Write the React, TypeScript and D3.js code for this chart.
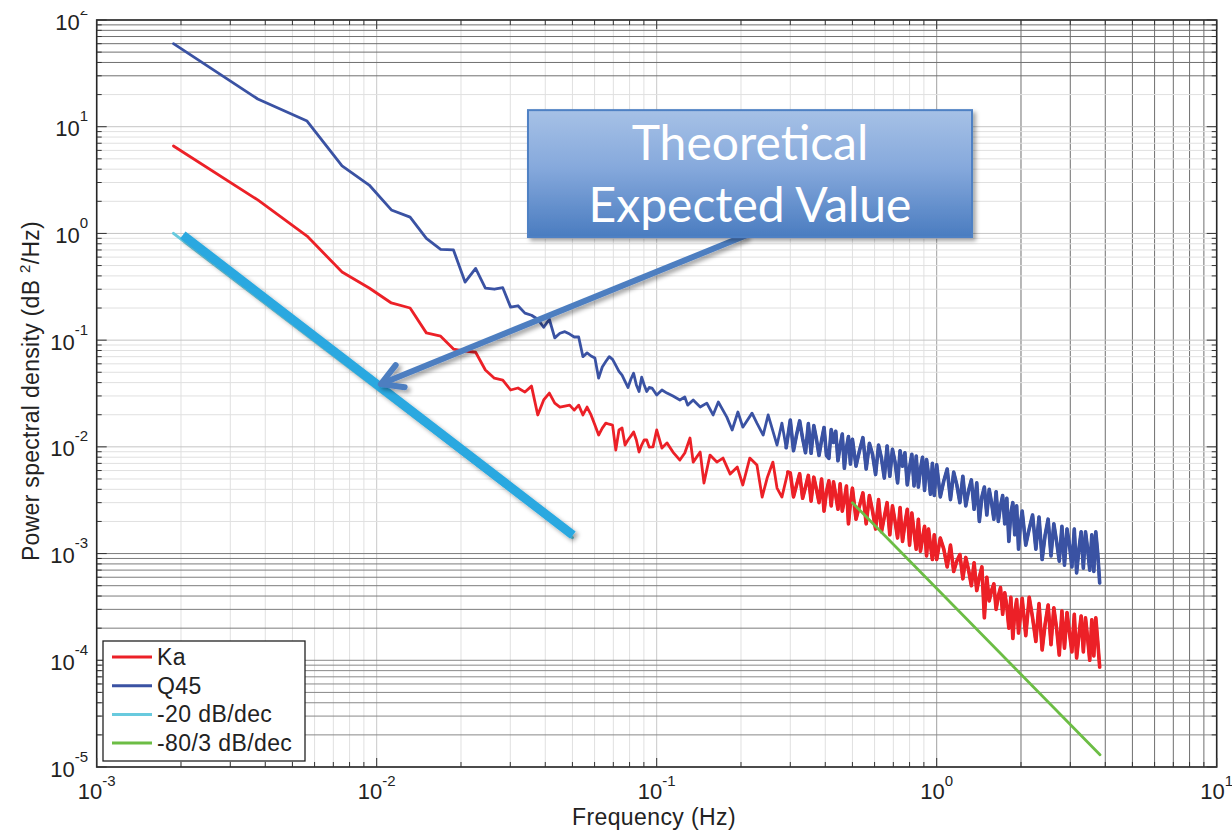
import React, { useEffect } from "react";
import * as d3 from "d3";

const W = 1232;
const H = 830;

// low-frequency FFT bins, shared by both spectra (df ~ 0.00188 Hz)
const lowFreq = [
  0.00188, 0.00376, 0.00564, 0.00752, 0.0094, 0.01128, 0.01316, 0.01504, 0.01692, 0.0188,
  0.02068, 0.02256, 0.02444, 0.02632, 0.0282, 0.03008, 0.03196, 0.03384, 0.03572, 0.0376,
  0.03948, 0.04136, 0.04324, 0.04512, 0.047, 0.04888, 0.05076, 0.05264, 0.05452, 0.0564,
  0.05828, 0.06016, 0.06204, 0.06392, 0.0658, 0.06768, 0.06956, 0.07144, 0.07332, 0.0752,
  0.07708, 0.07896, 0.08084, 0.08272, 0.0846, 0.08648, 0.08836, 0.09024, 0.09212, 0.094,
];
const q45Low = [
  60, 18.2, 11.3, 4.3, 2.84, 1.66, 1.42, 0.9, 0.71, 0.7,
  0.35, 0.47, 0.307, 0.3, 0.31, 0.204, 0.21, 0.179, 0.171, 0.157,
  0.132, 0.157, 0.105, 0.116, 0.12, 0.114, 0.107, 0.107, 0.07, 0.076,
  0.071, 0.068, 0.044, 0.056, 0.063, 0.07, 0.066, 0.058, 0.051, 0.047,
  0.041, 0.036, 0.043, 0.049, 0.038, 0.033, 0.045, 0.038, 0.033, 0.036,
];
const kaLow = [
  6.6, 2.06, 0.945, 0.435, 0.308, 0.223, 0.2, 0.117, 0.109, 0.0825,
  0.079, 0.077, 0.0525, 0.044, 0.0423, 0.0341, 0.0356, 0.0326, 0.0371, 0.0199,
  0.0275, 0.0319, 0.0257, 0.0236, 0.0241, 0.0246, 0.0221, 0.0246, 0.0199, 0.0236,
  0.0199, 0.016, 0.0129, 0.015, 0.0167, 0.0163, 0.016, 0.00933, 0.0144, 0.015,
  0.0104, 0.0116, 0.0126, 0.0138, 0.0116, 0.00894, 0.0104, 0.0116, 0.0116, 0.00994,
];

// 0.1 - 0.3 Hz
const q45MidFreq = [
  0.0962, 0.1, 0.1044, 0.1088, 0.1143, 0.121, 0.126, 0.129, 0.135, 0.143,
  0.151, 0.159, 0.166, 0.178, 0.186, 0.195, 0.203, 0.219, 0.228, 0.24,
  0.25, 0.269, 0.28, 0.29,
];
const q45Mid = [
  0.0356, 0.0306, 0.0341, 0.0319, 0.0299, 0.0275, 0.0293, 0.0246, 0.0275, 0.0236,
  0.0257, 0.0199, 0.0263, 0.019, 0.0144, 0.0212, 0.0153, 0.0207, 0.0167, 0.0129,
  0.0199, 0.0104, 0.0167, 0.0098,
];
const kaMidFreq = [
  0.097, 0.1, 0.1044, 0.1088, 0.1143, 0.121, 0.126, 0.1315, 0.135, 0.143,
  0.1475, 0.155, 0.164, 0.1725, 0.183, 0.194, 0.203, 0.215, 0.228, 0.238,
  0.248, 0.26, 0.269, 0.28, 0.294,
];
const kaMid = [
  0.01, 0.0144, 0.00974, 0.0109, 0.00894, 0.00752, 0.00875, 0.0121, 0.0072, 0.00894,
  0.00458, 0.00838, 0.0072, 0.00785, 0.00556, 0.00647, 0.00439, 0.00785, 0.00675, 0.00338,
  0.0051, 0.0072, 0.00411, 0.00338, 0.00581,
];

// 0.3 - 3.8 Hz, dense noisy band (shared frequency grid)
const highFreq = [
  0.3, 0.308, 0.316, 0.324, 0.332, 0.34, 0.348, 0.356, 0.364, 0.372,
  0.38, 0.388, 0.396, 0.404, 0.412, 0.42, 0.428, 0.436, 0.444, 0.452,
  0.46, 0.468, 0.476, 0.484, 0.492,
  0.5, 0.515, 0.53, 0.545, 0.56, 0.575, 0.59, 0.605, 0.62, 0.635,
  0.65, 0.665, 0.68, 0.695, 0.71, 0.725, 0.74, 0.755, 0.77, 0.785,
  0.8, 0.815, 0.83, 0.845, 0.86, 0.875, 0.89, 0.905, 0.92, 0.935,
  0.95, 0.965, 0.98,
  1.0, 1.03, 1.06, 1.09, 1.12, 1.15, 1.18, 1.21, 1.24, 1.27,
  1.3, 1.33, 1.36, 1.39, 1.42, 1.45, 1.48, 1.51, 1.54, 1.57,
  1.6, 1.63, 1.66, 1.69, 1.72, 1.75, 1.78, 1.81, 1.84, 1.87,
  1.9, 1.93, 1.96, 1.99,
  2.02, 2.08, 2.14, 2.2, 2.26, 2.32, 2.38, 2.44, 2.5, 2.56,
  2.62, 2.68, 2.74, 2.8, 2.86, 2.92, 2.98, 3.04, 3.1, 3.16,
  3.22, 3.28, 3.34, 3.4, 3.46, 3.52, 3.58, 3.64, 3.7, 3.76,
  3.82,
];
const q45High = [
  0.0178, 0.0092, 0.013, 0.0175, 0.012, 0.0088, 0.0165, 0.0087, 0.0158, 0.0118,
  0.0083, 0.0115, 0.0152, 0.0083, 0.0078, 0.0145, 0.011, 0.014, 0.0074, 0.0102,
  0.0132, 0.0063, 0.0098, 0.0125, 0.0069,
  0.0118, 0.0066, 0.0092, 0.0122, 0.0062, 0.0108, 0.0085, 0.0055, 0.0104, 0.0078,
  0.0051, 0.0102, 0.0053, 0.0095, 0.0072, 0.0046, 0.0092, 0.0066, 0.0088, 0.0044,
  0.0064, 0.0085, 0.0043, 0.0082, 0.0042, 0.0062, 0.008, 0.0039, 0.0076, 0.0055,
  0.0036, 0.007, 0.0035,
  0.0068, 0.0034, 0.0048, 0.0062, 0.0032, 0.0058, 0.0044, 0.003, 0.0053, 0.0028,
  0.0039, 0.0049, 0.0026, 0.0046, 0.002, 0.0034, 0.0042, 0.0023, 0.004, 0.003,
  0.0021, 0.0038, 0.002, 0.0028, 0.0035, 0.0019, 0.0033, 0.0013, 0.0024, 0.003,
  0.0015, 0.0028, 0.0011, 0.0019,
  0.0025, 0.0012, 0.0017, 0.0023, 0.0011, 0.0022, 0.00088, 0.0015, 0.0021, 0.00095,
  0.0019, 0.0013, 0.00085, 0.0018, 0.00078, 0.0017, 0.0012, 0.00075, 0.0017, 0.00066,
  0.0011, 0.0016, 0.00073, 0.0016, 0.0011, 0.0007, 0.0015, 0.00068, 0.0016, 0.001,
  0.00053,
];
const kaHigh = [
  0.0057, 0.0034, 0.0044, 0.0056, 0.0033, 0.0042, 0.0054, 0.0031, 0.0052, 0.004,
  0.003, 0.005, 0.0025, 0.0038, 0.0048, 0.0028, 0.0047, 0.0035, 0.0026, 0.0045,
  0.0025, 0.0032, 0.0043, 0.0019, 0.003,
  0.0041, 0.0021, 0.0028, 0.0037, 0.0019, 0.0035, 0.0025, 0.0017, 0.0032, 0.0016,
  0.0022, 0.003, 0.0015, 0.0028, 0.002, 0.0014, 0.0027, 0.0013, 0.0019, 0.0026,
  0.0012, 0.0024, 0.0016, 0.0011, 0.0021, 0.00105, 0.0014, 0.0018, 0.00095, 0.0017,
  0.0012, 0.00088, 0.0015,
  0.00088, 0.0014, 0.0011, 0.00075, 0.0012, 0.00068, 0.00085, 0.00098, 0.00058, 0.00092,
  0.0007, 0.0005, 0.00082, 0.00045, 0.0006, 0.00075, 0.00025, 0.0006, 0.00036, 0.00045,
  0.00052, 0.0003, 0.0004, 0.00048, 0.00027, 0.00043, 0.00032, 0.0002, 0.00039, 0.00016,
  0.00028, 0.00037, 0.00018, 0.00026,
  0.00038, 0.00017, 0.00039, 0.00025, 0.00015, 0.00034, 0.000125, 0.00022, 0.00033, 0.00014,
  0.00031, 0.0002, 0.000112, 0.00029, 0.00013, 0.00028, 0.00018, 0.00012, 0.00027, 0.000105,
  0.00017, 0.00026, 0.00012, 0.00025, 0.00016, 0.0001, 0.00024, 0.00011, 0.00025, 0.00015,
  0.0000864,
];

// reference slopes
const slope20Freq = [0.00188, 0.05];
const slope20Psd = [1.0, 0.00141];
const slope80Freq = [0.5, 3.83];
const slope80Psd = [0.003, 1.3e-5];

// annotation overlay (data coordinates)
const bandFreq = [0.00203, 0.0502];
const bandPsd = [0.966, 0.00149];
const calloutFreq = [0.0347, 1.337];
const calloutPsd = [14.3, 0.925];
const arrowFreq = [0.21, 0.01035];
const arrowPsd = [0.966, 0.0388];
const calloutLines = ["Theoretical", "Expected Value"];

const xExps = [-3, -2, -1, 0, 1];
const yExps = [-5, -4, -3, -2, -1, 0, 1, 2];

const legendItems = [
  { label: "Ka", color: "#ec2027" },
  { label: "Q45", color: "#3a52a3" },
  { label: "-20 dB/dec", color: "#68cade" },
  { label: "-80/3 dB/dec", color: "#6cbd45" },
];

const x = d3.scaleLog().domain([1e-3, 1e1]).range([96.7, 1216.7]);
const y = d3.scaleLog().domain([1e-5, 1e2]).range([767, 20]);

const pathOf = (fs: number[], vs: number[]) =>
  d3
    .line<number>()
    .x((_, i) => x(fs[i]))
    .y((v) => y(v))(vs) as string;

const subTicks = (exps: number[]) => {
  const out: { v: number; m: number }[] = [];
  exps.slice(0, -1).forEach((e) => {
    for (let m = 1; m <= 9; m++) out.push({ v: m * Math.pow(10, e), m });
  });
  out.push({ v: Math.pow(10, exps[exps.length - 1]), m: 1 });
  return out;
};

const hGridColor = (v: number, m: number) => {
  if (v >= 30 && v < 100) return "#6f6f6f";
  if (v >= 2e-4 && v <= 1e-3) return "#7c7c7c";
  if (v > 1e-5 && v <= 1e-4) return "#888";
  return m === 1 ? "#c4c4c4" : "#e0e0e0";
};
const vGridColor = (f: number, m: number) => {
  if (f >= 2 && f < 10) return "#6f6f6f";
  if (f >= 1 && f < 2) return "#a0a0a0";
  return m === 1 ? "#c8c8c8" : "#e0e0e0";
};

const App = () => {
  useEffect(() => {
    document.body.style.margin = "0";
  }, []);

  const x0 = x.range()[0];
  const x1 = x.range()[1];
  const y0 = y.range()[0];
  const y1 = y.range()[1];
  const xt = subTicks(xExps);
  const yt = subTicks(yExps);

  const tipX = x(arrowFreq[1]);
  const tipY = y(arrowPsd[1]);
  const ang = Math.atan2(y(arrowPsd[0]) - tipY, x(arrowFreq[0]) - tipX);
  const head = [ang - 0.52, ang + 0.52].map((a) => [tipX + 24 * Math.cos(a), tipY + 24 * Math.sin(a)]);

  const bx0 = x(calloutFreq[0]);
  const bx1 = x(calloutFreq[1]);
  const by0 = y(calloutPsd[0]);
  const by1 = y(calloutPsd[1]);

  const kaF = lowFreq.concat(kaMidFreq, highFreq);
  const kaV = kaLow.concat(kaMid, kaHigh);
  const qF = lowFreq.concat(q45MidFreq, highFreq);
  const qV = q45Low.concat(q45Mid, q45High);

  // the dense part is stroked a bit heavier so the noise reads as a band
  const kaDense = pathOf(kaMidFreq.slice(-1).concat(highFreq), kaMid.slice(-1).concat(kaHigh));
  const qDense = pathOf(q45MidFreq.slice(-1).concat(highFreq), q45Mid.slice(-1).concat(q45High));

  const font = "'Liberation Sans', Arial, sans-serif";

  return (
    <svg width={W} height={H} style={{ display: "block", background: "#fff" }} fontFamily={font}>
      <defs>
        <linearGradient id="boxGrad" x1="0" y1="0" x2="0" y2="1">
          <stop offset="0" stopColor="#a6c1e6" />
          <stop offset="0.45" stopColor="#86a9dc" />
          <stop offset="1" stopColor="#4a7cc0" />
        </linearGradient>
        <filter id="shadow" x="-10%" y="-10%" width="130%" height="140%">
          <feDropShadow dx="3" dy="3" stdDeviation="2" floodColor="#000" floodOpacity="0.35" />
        </filter>
        <clipPath id="topClip">
          <rect x={0} y={11} width={W} height={H} />
        </clipPath>
      </defs>

      {/* grid */}
      {xt.map((t, i) => (
        <line key={"gx" + i} x1={x(t.v)} x2={x(t.v)} y1={y1} y2={y0} stroke={vGridColor(t.v, t.m)} strokeWidth={1} />
      ))}
      {yt.map((t, i) => (
        <line key={"gy" + i} x1={x0} x2={x1} y1={y(t.v)} y2={y(t.v)} stroke={hGridColor(t.v, t.m)} strokeWidth={1} />
      ))}

      {/* spectra */}
      <g fill="none" strokeLinejoin="round" strokeLinecap="round">
        <path d={pathOf(slope20Freq, slope20Psd)} stroke="#68cade" strokeWidth={3} />
        <path d={pathOf(kaF, kaV)} stroke="#ec2027" strokeWidth={2.8} />
        <path d={kaDense} stroke="#ec2027" strokeWidth={3.6} />
        <path d={pathOf(qF, qV)} stroke="#3a52a3" strokeWidth={2.8} />
        <path d={qDense} stroke="#3a52a3" strokeWidth={3.6} />
        <path d={pathOf(slope80Freq, slope80Psd)} stroke="#6cbd45" strokeWidth={2.8} />
      </g>

      {/* axes box and ticks */}
      <rect x={x0} y={y1} width={x1 - x0} height={y0 - y1} fill="none" stroke="#262626" strokeWidth={1.6} />
      {xt.map((t, i) => {
        const len = t.m === 1 ? 9 : 5;
        return (
          <g key={"tx" + i} stroke="#333" strokeWidth={1}>
            <line x1={x(t.v)} x2={x(t.v)} y1={y0} y2={y0 - len} />
            <line x1={x(t.v)} x2={x(t.v)} y1={y1} y2={y1 + len} />
          </g>
        );
      })}
      {yt.map((t, i) => {
        const len = t.m === 1 ? 10 : 5;
        return (
          <g key={"ty" + i} stroke="#333" strokeWidth={1}>
            <line x1={x0} x2={x0 + len} y1={y(t.v)} y2={y(t.v)} />
            <line x1={x1} x2={x1 - len} y1={y(t.v)} y2={y(t.v)} />
          </g>
        );
      })}

      {/* tick labels */}
      {xExps.map((e) => (
        <text key={"lx" + e} x={x(Math.pow(10, e))} y={y0 + 32} textAnchor="middle" fontSize={22} fill="#222">
          10
          <tspan dy={-13} fontSize={15}>
            {e}
          </tspan>
        </text>
      ))}
      {yExps.map((e) => (
        <text
          key={"ly" + e}
          x={88}
          y={y(Math.pow(10, e)) + 9.6}
          textAnchor="end"
          fontSize={22}
          fill="#222"
          clipPath={e === 2 ? "url(#topClip)" : undefined}
        >
          10
          <tspan dy={-15} fontSize={15}>
            {e}
          </tspan>
        </text>
      ))}

      {/* axis titles */}
      <text x={654} y={825} textAnchor="middle" fontSize={23} letterSpacing={0.4} fill="#222">
        Frequency (Hz)
      </text>
      <text
        transform="translate(39,391) rotate(-90)"
        textAnchor="middle"
        fontSize={23}
        letterSpacing={0.3}
        fill="#222"
      >
        Power spectral density (dB{" "}
        <tspan dy={-9} fontSize={15}>
          2
        </tspan>
        <tspan dy={9}>/Hz)</tspan>
      </text>

      {/* legend */}
      <g>
        <rect x={103} y={641} width={202} height={120} fill="#fff" stroke="#222" strokeWidth={1.3} />
        {legendItems.map((d, i) => {
          const ly = 657 + i * 28.7;
          return (
            <g key={d.label}>
              <line x1={112} x2={152} y1={ly} y2={ly} stroke={d.color} strokeWidth={3} />
              <text x={157} y={ly + 8} fontSize={23} letterSpacing={0.4} fill="#222">
                {d.label}
              </text>
            </g>
          );
        })}
      </g>

      {/* annotation overlay */}
      <path d={pathOf(bandFreq, bandPsd)} stroke="#2aa8e0" strokeWidth={9} fill="none" filter="url(#shadow)" />
      <g filter="url(#shadow)" stroke="#4d7ec0" strokeWidth={6} strokeLinecap="round" strokeLinejoin="round" fill="none">
        <path d={pathOf(arrowFreq, arrowPsd)} strokeLinecap="butt" />
        <polyline points={`${head[0][0]},${head[0][1]} ${tipX},${tipY} ${head[1][0]},${head[1][1]}`} />
      </g>
      <rect
        x={bx0}
        y={by0}
        width={bx1 - bx0}
        height={by1 - by0}
        fill="url(#boxGrad)"
        stroke="#4f81c4"
        strokeWidth={2}
        filter="url(#shadow)"
      />
      {calloutLines.map((t, i) => (
        <text
          key={t}
          x={(bx0 + bx1) / 2}
          y={160 + i * 62}
          textAnchor="middle"
          fontSize={48}
          fontFamily="Lato, 'Open Sans', sans-serif"
          fill="#fff"
        >
          {t}
        </text>
      ))}
    </svg>
  );
};

export default App;
